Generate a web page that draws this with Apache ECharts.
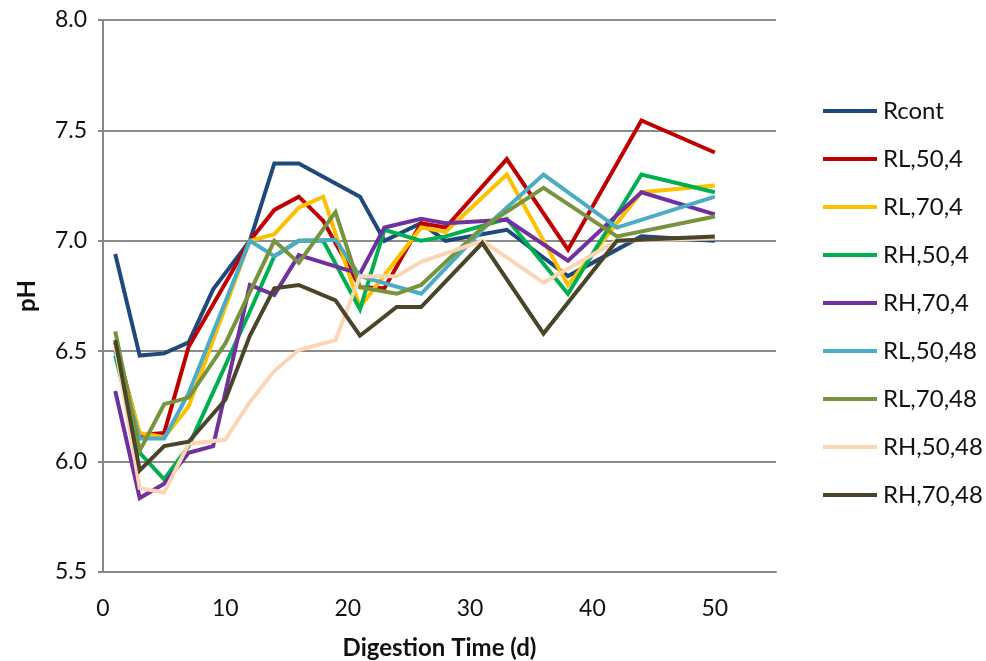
<!DOCTYPE html>
<html>
<head>
<meta charset="utf-8">
<script src="https://cdn.jsdelivr.net/npm/echarts@6/dist/echarts.min.js"></script>
<style>html,body{margin:0;padding:0;background:#fff}#c{width:986px;height:661px}</style>
</head>
<body>
<div id="c"></div>
<script>
const seriesNames = ['Rcont','RL,50,4','RL,70,4','RH,50,4','RH,70,4','RL,50,48','RL,70,48','RH,50,48','RH,70,48'];
const colors = ['#1F497D','#C00000','#FFC000','#00B050','#7030A0','#4BACC6','#77933C','#FCD5B5','#4A452A'];

const rcontDays   = [1,3,5,7,9,12,14,16,21,23,26,28,33,38,44,50];
const rcontPH     = [6.94,6.48,6.49,6.54,6.78,7.00,7.35,7.35,7.20,7.00,7.08,7.00,7.05,6.84,7.02,7.00];
const rl504Days   = [1,3,5,7,12,14,16,18,21,23,26,28,33,38,44,50];
const rl504PH     = [6.54,6.12,6.13,6.52,7.00,7.14,7.20,7.09,6.79,6.785,7.08,7.06,7.37,6.96,7.545,7.40];
const rl704Days   = [1,3,5,7,12,14,16,18,21,26,28,33,38,44,50];
const rl704PH     = [6.52,6.13,6.11,6.25,7.00,7.03,7.15,7.20,6.70,7.06,7.04,7.30,6.80,7.22,7.25];
const rh504Days   = [1,3,5,7,12,14,16,18,21,23,26,28,33,38,44,50];
const rh504PH     = [6.48,6.04,5.92,6.07,6.68,6.93,7.00,7.00,6.69,7.05,7.00,7.02,7.10,6.76,7.30,7.22];
const rh704Days   = [1,3,5,7,9,12,14,16,21,23,26,28,33,38,44,50];
const rh704PH     = [6.32,5.835,5.90,6.04,6.07,6.80,6.755,6.935,6.85,7.06,7.10,7.08,7.095,6.91,7.22,7.12];
const rl5048Days  = [1,3,5,7,12,14,16,19,21,26,31,36,42,50];
const rl5048PH    = [6.50,6.105,6.105,6.31,7.00,6.93,7.00,7.005,6.84,6.76,7.05,7.30,7.06,7.20];
const rl7048Days  = [1,3,5,7,10,14,16,19,21,24,26,31,36,42,50];
const rl7048PH    = [6.59,6.05,6.26,6.29,6.535,7.00,6.90,7.13,6.79,6.76,6.80,7.06,7.24,7.02,7.11];
const rh5048Days  = [1,3,5,7,10,12,14,16,19,21,24,26,31,36,42,50];
const rh5048PH    = [6.53,5.88,5.86,6.08,6.10,6.27,6.41,6.505,6.55,6.84,6.84,6.905,7.00,6.81,7.00,7.01];
const rh7048Days  = [1,3,5,7,10,12,14,16,19,21,24,26,31,36,42,50];
const rh7048PH    = [6.55,5.96,6.07,6.09,6.28,6.57,6.785,6.80,6.73,6.57,6.70,6.70,6.99,6.58,7.00,7.02];

const allDays = [rcontDays,rl504Days,rl704Days,rh504Days,rh704Days,rl5048Days,rl7048Days,rh5048Days,rh7048Days];
const allPH   = [rcontPH,rl504PH,rl704PH,rh504PH,rh704PH,rl5048PH,rl7048PH,rh5048PH,rh7048PH];

const yTicks = [5.5,6.0,6.5,7.0,7.5,8.0];
const xTicks = [0,10,20,30,40,50];

const chart = echarts.init(document.getElementById('c'), null, {renderer:'canvas'});
const series = seriesNames.map((n,i)=>({
  name:n, type:'line', showSymbol:false, symbol:'none',
  data: allDays[i].map((d,j)=>[d, allPH[i][j]]),
  lineStyle:{width:4, color:colors[i], join:'miter'},
  itemStyle:{color:colors[i]},
  z: 2+i, animation:false
}));
chart.setOption({
  animation:false,
  backgroundColor:'#ffffff',
  grid:{left:103, right:210, top:20, bottom:89, containLabel:false, outerBoundsMode:'none'},
  xAxis:{
    type:'value', min:0, max:55, interval:10,
    axisLine:{onZero:false, lineStyle:{color:'#888888', width:2}},
    axisTick:{show:false},
    splitLine:{show:false},
    axisLabel:{fontFamily:'Lato', fontSize:23, color:'#111', margin:25,
      formatter:v => xTicks.includes(v) ? String(v) : ''},
    name:'Digestion Time (d)', nameLocation:'middle', nameGap:64,
    nameTextStyle:{fontFamily:'Lato', fontWeight:'bold', fontSize:24, color:'#111'}
  },
  yAxis:{
    type:'value', min:5.5, max:8, interval:0.5,
    axisLine:{show:true, onZero:false, lineStyle:{color:'#888888', width:2}},
    axisTick:{show:true, length:5, lineStyle:{color:'#888888', width:2}},
    splitLine:{show:true, lineStyle:{color:'#8c8c8c', width:2}},
    axisLabel:{fontFamily:'Lato', fontSize:23, color:'#111', margin:16,
      formatter:v => yTicks.some(t=>Math.abs(t-v)<1e-9) ? v.toFixed(1) : ''},
    name:'pH', nameLocation:'middle', nameGap:64, nameRotate:90,
    nameTextStyle:{fontFamily:'Lato', fontWeight:'bold', fontSize:24, color:'#111'}
  },
  legend:{
    orient:'vertical', left:818, top:94, itemWidth:54, itemHeight:4, itemGap:24,
    icon:'rect',
    data: seriesNames,
    textStyle:{fontFamily:'Lato', fontSize:24, lineHeight:24, color:'#111', padding:[0,0,0,1]}
  },
  series: series
});
</script>
</body>
</html>
